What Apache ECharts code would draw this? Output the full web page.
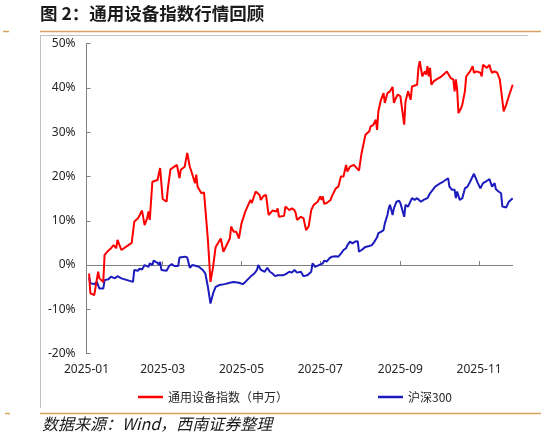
<!DOCTYPE html>
<html>
<head>
<meta charset="utf-8">
<script src="https://cdn.jsdelivr.net/npm/echarts@6/dist/echarts.min.js"></script>
<style>
html,body{margin:0;padding:0;background:#fff;}
#chart{width:541px;height:439px;}
</style>
</head>
<body>
<div id="chart"></div>
<script>
// ---- data (x = day offset from 2025-01-01, y = cumulative return %) ----
var titleText = '图 2：通用设备指数行情回顾';
var sourceText = '数据来源：Wind，西南证券整理';
var seriesNames = ['通用设备指数（申万）', '沪深300'];

var redDays = [2,3,6,9,10,13,14,16,19,21,23,24,27,35,37,40,43,45,47,48,49,51,55,57,59,62,63,65,70,72,73,76,78,80,82,84,85,86,89,91,92,94,96,98,100,104,106,107,111,112,114,116,118,120,123,127,128,131,134,135,137,139,141,144,147,148,149,153,154,157,159,161,162,163,166,167,168,170,172,174,176,179,181,182,183,184,186,189,190,193,195,197,199,201,202,204,207,208,211,213,216,219,220,222,224,225,226,228,230,231,233,235,237,238,239,241,243,246,247,249,251,252,256,257,258,260,262,263,264,265,266,267,269,271,275,279,280,282,284,285,286,287,288,290,291,293,294,297,299,300,302,303,305,306,307,310,312,313,314,316,318,319,320,321,323,325,327,328,330];
var redVals = [-1.9,-6.4,-6.8,-1.5,-3.0,-3.8,2.3,3.0,3.8,4.5,3.8,5.7,3.4,5.0,9.8,10.6,12.3,9.0,10.6,12.1,10.2,18.8,19.2,21.9,14.9,14.3,17.3,21.6,22.6,19.6,21.5,22.2,25.3,22.2,20.4,18.5,20.4,17.7,16.2,16.4,16.2,5.7,-3.8,-0.4,4.1,6.0,3.0,3.0,6.0,8.7,7.5,7.5,6.0,9.4,12.1,14.7,14.0,16.6,15.8,14.7,15.6,15.8,11.3,12.3,12.1,12.8,10.9,11.1,13.2,12.4,12.8,12.4,11.7,10.2,10.9,11.3,10.6,7.9,8.7,12.4,13.6,14.3,15.5,14.7,15.5,13.8,14.0,14.7,15.5,17.3,17.7,20.0,20.0,22.6,21.1,22.2,22.6,22.6,21.3,25.3,29.4,30.2,31.3,31.6,32.8,30.5,34.7,37.3,38.8,36.6,38.8,39.2,40.2,36.6,37.3,38.5,38.1,31.7,36.9,39.2,37.3,40.3,40.7,44.5,46.0,42.6,43.7,43.0,44.9,42.6,44.5,40.7,41.5,41.9,42.6,43.7,44.1,42.2,41.9,39.2,41.9,39.6,34.3,35.4,36.2,39.2,42.6,43.7,44.9,43.4,43.7,44.1,43.4,42.6,45.2,44.5,45.2,44.1,43.4,43.7,43.4,43.7,41.9,39.6,34.7,36.2,38.1,38.1,40.7];

var blueDays = [2,3,6,8,10,13,14,17,19,22,24,27,36,37,40,41,43,45,46,48,49,51,52,55,56,57,58,62,64,66,68,69,71,72,76,78,80,82,85,87,90,92,94,96,98,100,103,107,111,114,118,121,123,127,130,132,133,135,138,140,142,144,146,148,149,152,154,157,159,161,163,166,168,171,172,174,175,177,180,183,184,186,188,190,193,195,197,199,201,202,204,206,208,210,211,213,216,219,221,223,225,226,228,230,231,233,234,235,237,238,240,242,243,246,247,249,252,254,256,257,259,261,264,266,267,270,273,276,280,281,283,285,286,287,289,291,292,293,295,297,298,300,302,303,305,307,309,310,312,314,316,317,319,321,322,325,327,328,330];
var blueVals = [-2.8,-4.1,-4.3,-3.8,-5.3,-5.3,-3.4,-3.2,-2.6,-3.0,-2.5,-3.0,-3.8,-1.1,-1.3,-0.8,-1.0,0,0.2,-0.4,0.4,0,1.0,0.5,0,0.7,-1.1,-1.3,-0.2,0.2,-0.2,0.2,-0.2,1.7,1.9,1.7,-0.6,0,-0.2,-0.4,-1.1,-1.9,-4.9,-8.7,-6.4,-4.9,-4.5,-4.3,-4.0,-3.8,-4.0,-4.3,-3.8,-2.6,-1.9,-1.1,0,-1.1,-1.5,-0.6,-1.5,-1.9,-2.5,-2.3,-2.6,-2.3,-2.1,-1.5,-1.7,-1.1,-1.7,-1.5,-2.5,-2.3,-2.6,-1.5,0.4,-0.4,0,0.4,1.0,0.8,1.5,1.9,2.0,1.9,2.6,3.4,3.8,4.5,5.3,4.9,5.3,5.4,3.0,3.4,4.1,4.3,4.5,5.3,6.3,7.2,7.5,7.9,9.4,11.3,12.8,13.6,11.3,12.8,14.3,14.5,14.0,10.9,13.6,13.2,15.1,14.7,15.1,15.5,14.3,14.7,15.1,16.2,15.8,17.7,18.3,18.8,19.6,17.7,17.0,17.0,15.1,16.6,14.7,15.1,16.2,17.3,17.7,18.8,18.5,20.6,19.2,18.5,17.3,18.5,18.8,18.5,19.4,17.7,18.5,17.1,16.6,16.2,13.2,13.0,14.3,14.7,15.1];

var tickDays = [0,59,120,181,243,304];
var tickLabels = ['2025-01','2025-03','2025-05','2025-07','2025-09','2025-11'];
var yMin = -20, yMax = 50, yStep = 10;
var xMax = 330;

function pairs(xs, ys){ return xs.map(function(x,i){ return [x, ys[i]]; }); }

var chart = echarts.init(document.getElementById('chart'), null, {renderer:'canvas'});
var axisGray = '#808080';
var textColor = '#262626';
var fontFam = "'Noto Sans','Noto Sans CJK SC',sans-serif";

chart.setOption({
  animation:false,
  backgroundColor:'#fff',
  textStyle:{fontFamily:fontFam},
  grid:{left:86.5, right:28.3, top:43.5, bottom:85.3, containLabel:false},
  legend:{
    data:seriesNames, left:133, top:386, icon:'rect', itemWidth:25, itemHeight:2.5,
    itemGap:90, textStyle:{fontSize:12, color:textColor, fontFamily:"'Noto Sans CJK SC','Noto Sans',sans-serif"}
  },
  xAxis:[{
    type:'value', min:0, max:xMax, position:'bottom',
    axisLine:{show:true, onZero:true, lineStyle:{color:axisGray, width:1}},
    axisTick:{show:true, inside:true, length:4, customValues:tickDays, lineStyle:{color:axisGray}},
    axisLabel:{show:false},
    splitLine:{show:false}
  },{
    type:'value', min:0, max:xMax, position:'bottom',
    axisLine:{show:false, onZero:false},
    axisTick:{show:false},
    axisLabel:{show:true, customValues:tickDays, fontSize:12, color:textColor, margin:10,
      formatter:function(v){ var i = tickDays.indexOf(Math.round(v)); return i>=0 ? tickLabels[i] : ''; }},
    splitLine:{show:false}
  }],
  yAxis:{
    type:'value', min:yMin, max:yMax, interval:yStep,
    axisLine:{show:true, lineStyle:{color:axisGray, width:1}},
    axisTick:{show:true, inside:true, length:4, lineStyle:{color:axisGray}},
    axisLabel:{fontSize:12, color:textColor, margin:11, formatter:'{value}%'},
    splitLine:{show:false}
  },
  series:[{
    name:seriesNames[0], type:'line', xAxisIndex:0, data:pairs(redDays, redVals),
    showSymbol:false, symbol:'none', lineStyle:{color:'#FF0000', width:2}, itemStyle:{color:'#FF0000'}, z:3
  },{
    name:seriesNames[1], type:'line', xAxisIndex:0, data:pairs(blueDays, blueVals),
    showSymbol:false, symbol:'none', lineStyle:{color:'#1C1CBE', width:2}, itemStyle:{color:'#1C1CBE'}, z:2
  }],
  graphic:[
    {type:'text', left:40, top:5, style:{text:titleText, font:"bold 17.5px 'Noto Sans CJK SC',sans-serif", fill:'#1a1a1a'}},
    {type:'line', shape:{x1:40,y1:31.5,x2:541,y2:31.5}, style:{stroke:'#D9A35B', lineWidth:1.5}},
    {type:'line', shape:{x1:3,y1:31.5,x2:9,y2:31.5}, style:{stroke:'#D9A35B', lineWidth:1.5}},
    {type:'line', shape:{x1:40,y1:35.5,x2:528,y2:35.5}, style:{stroke:'#BFBFBF', lineWidth:1}},
    {type:'line', shape:{x1:40.5,y1:35.5,x2:40.5,y2:408}, style:{stroke:'#BFBFBF', lineWidth:1}},
    {type:'line', shape:{x1:40,y1:413.5,x2:541,y2:413.5}, style:{stroke:'#D9A35B', lineWidth:1.5}},
    {type:'line', shape:{x1:5,y1:413.5,x2:10,y2:413.5}, style:{stroke:'#D9A35B', lineWidth:1.5}},
    {type:'text', left:42, top:416, style:{text:sourceText, font:"italic 16px 'Noto Sans CJK SC',sans-serif", fill:'#1a1a1a'}}
  ]
});
</script>
</body>
</html>
